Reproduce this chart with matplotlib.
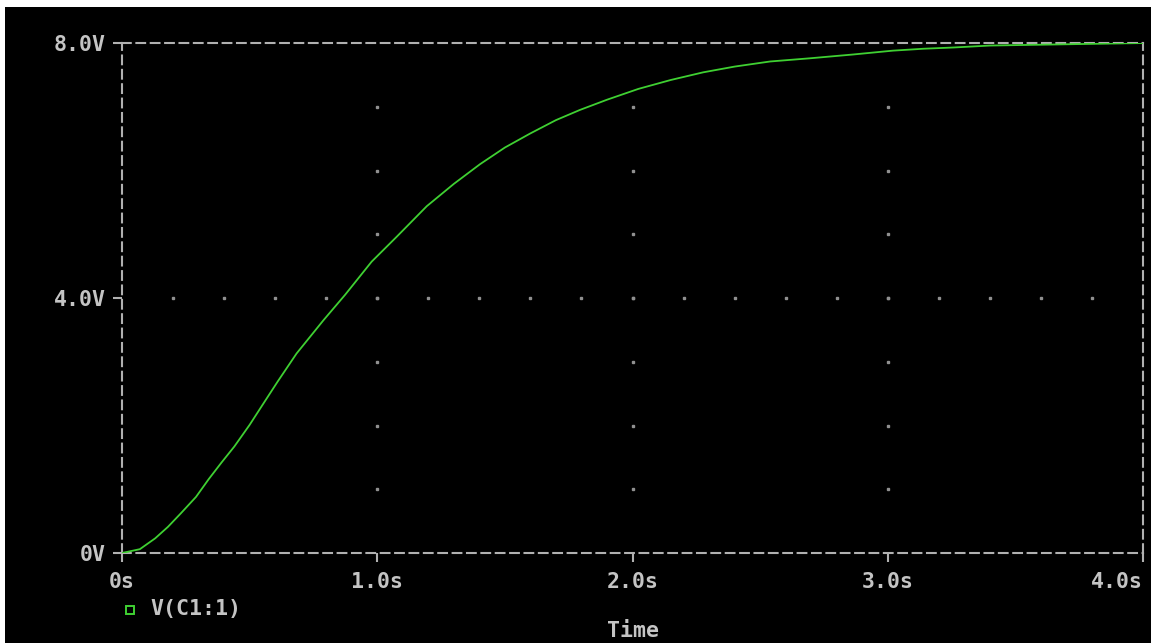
import matplotlib
matplotlib.use("Agg")
from matplotlib import pyplot as plt
from matplotlib.patches import Rectangle
import numpy as np

# values, V(C1:1) vs time
t_s = [0.0, 0.07, 0.13, 0.18, 0.23, 0.29, 0.34, 0.39, 0.44, 0.50, 0.55, 0.61,
       0.684, 0.789, 0.874, 0.978, 1.076, 1.194, 1.30, 1.403, 1.50, 1.599,
       1.70, 1.794, 1.90, 2.023, 2.15, 2.277, 2.40, 2.539, 2.695, 2.865,
       3.02, 3.14, 3.26, 3.40, 3.55, 3.70, 3.85, 4.0]
v_c1 = [0.0, 0.06, 0.23, 0.41, 0.62, 0.88, 1.16, 1.42, 1.67, 2.01, 2.32, 2.69,
        3.13, 3.65, 4.05, 4.57, 4.96, 5.44, 5.79, 6.10, 6.36, 6.58,
        6.79, 6.95, 7.11, 7.28, 7.42, 7.54, 7.63, 7.71, 7.76, 7.82,
        7.88, 7.91, 7.93, 7.96, 7.97, 7.98, 7.99, 8.0]

xticks = [0, 1, 2, 3, 4]
xlabels = ["0s", "1.0s", "2.0s", "3.0s", "4.0s"]
yticks = [0, 4, 8]
ylabels = ["0V", "4.0V", "8.0V"]

W, H = 1151, 643
fg = "#c4c4c4"
axc = "#b0b0b0"
green = "#3fd032"
font = dict(family="DejaVu Sans Mono", weight="bold", size=15.5, color=fg)

fig = plt.figure(figsize=(W / 100, H / 100), dpi=100, facecolor="white")
fig.patches.append(Rectangle((5 / W, 0), 1, (H - 7) / H, transform=fig.transFigure,
                             facecolor="black", edgecolor="none", zorder=-10))

ax = fig.add_axes([122 / W, 1 - 553 / H, (1143 - 122) / W, (553 - 43) / H])
ax.set_facecolor("black")
ax.set_xlim(0, 4)
ax.set_ylim(0, 8)

for s in ax.spines.values():
    s.set_color(axc)
    s.set_linewidth(1.5)
    s.set_linestyle((0, (4.2, 2.7)))

# dotted grid marks
gx = np.arange(1, 4)
gy = np.arange(1, 8)
for x in gx:
    ax.plot(np.full(len(gy), x), gy, ls="none", marker="s", ms=1.6, color="#909090")
hx = np.arange(0.2, 4.0, 0.2)
ax.plot(hx, np.full(len(hx), 4), ls="none", marker="s", ms=1.6, color="#909090")

ax.plot(t_s, v_c1, color=green, lw=1.3, zorder=5)

ax.set_xticks(xticks)
ax.set_xticklabels(xlabels, **font)
ax.get_xticklabels()[-1].set_ha("right")
ax.set_yticks(yticks)
ax.set_yticklabels(ylabels, **font)
ax.tick_params(axis="both", colors=axc, length=6.5, width=1.5, direction="out")
ax.tick_params(axis="x", pad=7, labelcolor=fg)
ax.tick_params(axis="y", pad=5, labelcolor=fg)

# legend
fig.patches.append(Rectangle((126 / W, 1 - 614 / H), 8 / W, 8 / H, transform=fig.transFigure,
                             facecolor="none", edgecolor=green, lw=1.4))
fig.text(150 / W, 1 - 609 / H, "V(C1:1)", ha="left", va="center", **font)
fig.text(633 / W, 2 / H, "Time", ha="center", va="bottom", **font)

fig.savefig("out.png", dpi=100, facecolor=fig.get_facecolor())
